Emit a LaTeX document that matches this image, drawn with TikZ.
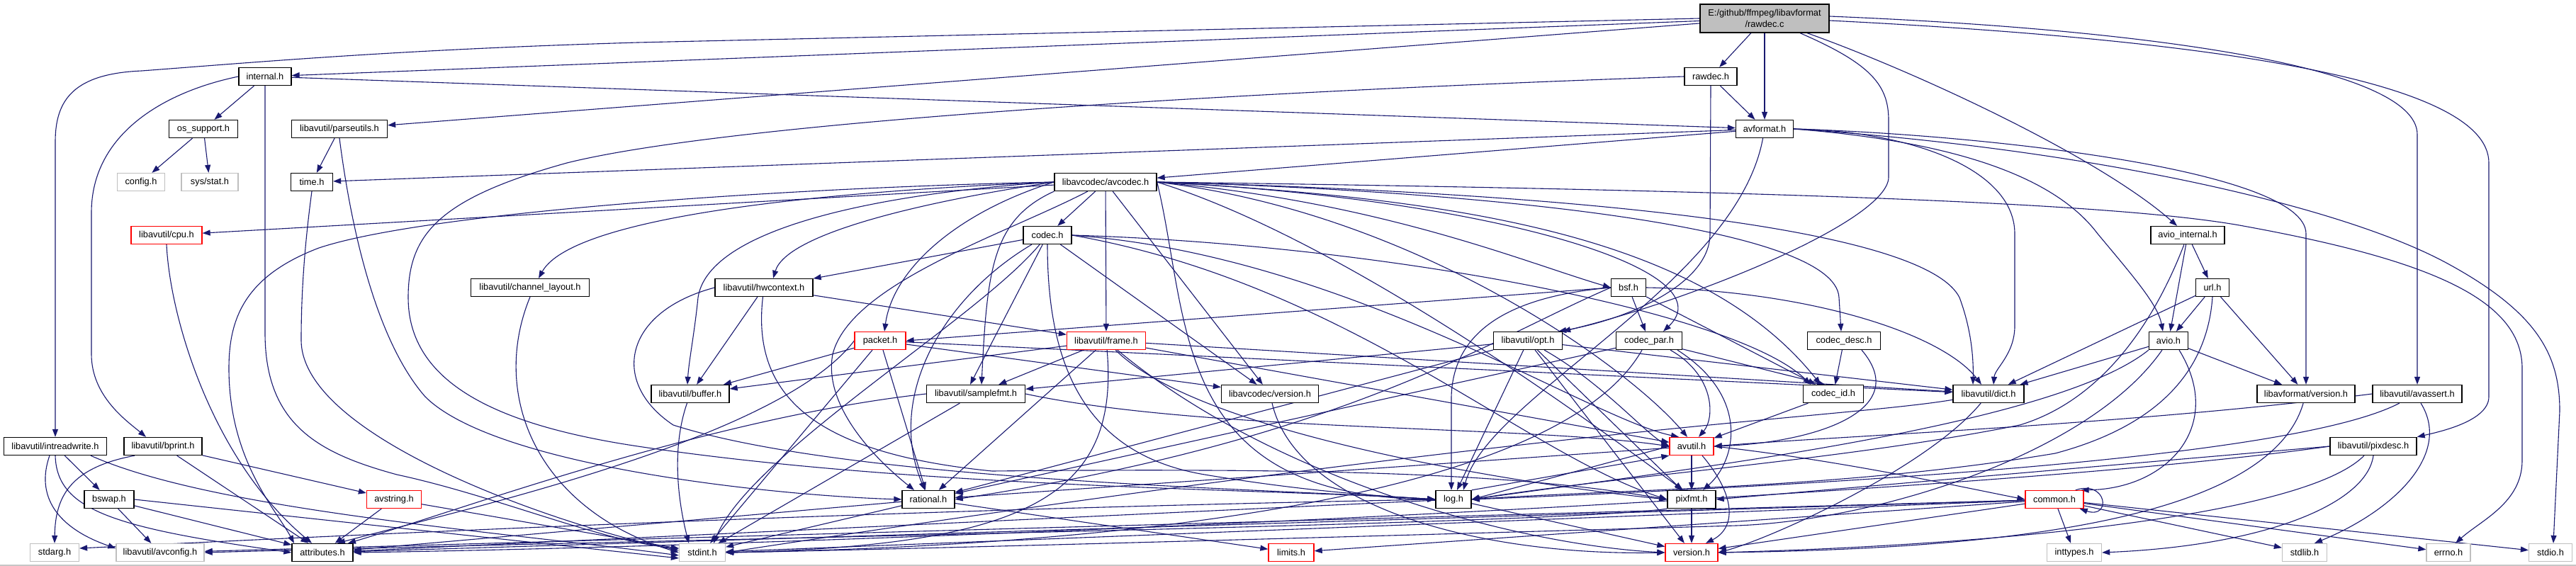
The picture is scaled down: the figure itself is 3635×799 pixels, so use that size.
\documentclass[tikz,border=0pt]{standalone}
\usepackage{fontspec}
\setmainfont{Liberation Sans}
\usetikzlibrary{arrows.meta}
\pgfdeclarelayer{bg}
\pgfsetlayers{bg,main}
\definecolor{edgec}{HTML}{191970}
\definecolor{grayb}{HTML}{BFBFBF}
\begin{document}
\begin{tikzpicture}[x=1pt,y=-1pt,
  nd/.style={draw=black, line width=1.3pt, fill=white, minimum height=25pt, inner sep=0pt, font=\fontsize{12.8}{14}\selectfont},
  gr/.style={nd, draw=grayb},
  rd/.style={nd, draw=red},
  dep/.style={draw=edgec, line width=1.1pt, -{Triangle[length=11pt,width=8pt]}}]
\path[use as bounding box] (0,0) rectangle (3635,799);
% nodes
\node[nd, fill=grayb, minimum width=182pt, minimum height=40pt, align=center, font=\fontsize{12.8}{15.5}\selectfont] (root) at (2490,26) {E:/github/ffmpeg/libavformat\\/rawdec.c};
\node[nd, minimum width=74pt] (internal) at (374,108) {internal.h};
\node[nd, minimum width=74pt] (rawdech) at (2414,108) {rawdec.h};
\node[nd, minimum width=97pt] (ossupport) at (287,182) {os\_support.h};
\node[nd, minimum width=135pt] (parseutils) at (479,182) {libavutil/parseutils.h};
\node[nd, minimum width=81pt] (avformat) at (2490,182) {avformat.h};
\node[gr, minimum width=67pt] (config) at (199,257) {config.h};
\node[gr, minimum width=80pt] (sysstat) at (296,257) {sys/stat.h};
\node[nd, minimum width=59pt] (time) at (440,257) {time.h};
\node[nd, minimum width=144pt] (avcodec) at (1560,257) {libavcodec/avcodec.h};
\node[rd, minimum width=100pt] (cpu) at (235,332) {libavutil/cpu.h};
\node[nd, minimum width=68pt] (codec) at (1478,332) {codec.h};
\node[nd, minimum width=104pt] (aviointernal) at (3087,332) {avio\_internal.h};
\node[nd, minimum width=167pt] (chlayout) at (748,406) {libavutil/channel\_layout.h};
\node[nd, minimum width=138pt] (hwcontext) at (1078,406) {libavutil/hwcontext.h};
\node[nd, minimum width=49pt] (bsf) at (2298,406) {bsf.h};
\node[nd, minimum width=47pt] (url) at (3122,406) {url.h};
\node[rd, minimum width=72pt] (packet) at (1242,481) {packet.h};
\node[rd, minimum width=111pt] (frame) at (1561,481) {libavutil/frame.h};
\node[nd, minimum width=97pt] (opt) at (2156,481) {libavutil/opt.h};
\node[nd, minimum width=93pt] (codecpar) at (2327,481) {codec\_par.h};
\node[nd, minimum width=103pt] (codecdesc) at (2602,481) {codec\_desc.h};
\node[nd, minimum width=55pt] (avio) at (3060,481) {avio.h};
\node[nd, minimum width=110pt] (buffer) at (974,556) {libavutil/buffer.h};
\node[nd, minimum width=139pt] (samplefmt) at (1377,556) {libavutil/samplefmt.h};
\node[nd, minimum width=137pt] (lavcversion) at (1792,556) {libavcodec/version.h};
\node[nd, minimum width=85pt] (codecid) at (2587,556) {codec\_id.h};
\node[nd, minimum width=100pt] (dict) at (2806,556) {libavutil/dict.h};
\node[nd, minimum width=138pt] (lavfversion) at (3254,556) {libavformat/version.h};
\node[nd, minimum width=126pt] (avassert) at (3411,556) {libavutil/avassert.h};
\node[nd, minimum width=145pt] (intreadwrite) at (78,630) {libavutil/intreadwrite.h};
\node[nd, minimum width=110pt] (bprint) at (230,630) {libavutil/bprint.h};
\node[rd, minimum width=62pt] (avutil) at (2387,630) {avutil.h};
\node[nd, minimum width=122pt] (pixdesc) at (3349,630) {libavutil/pixdesc.h};
\node[nd, minimum width=70pt] (bswap) at (154,705) {bswap.h};
\node[rd, minimum width=77pt] (avstring) at (556,705) {avstring.h};
\node[nd, minimum width=74pt] (rational) at (1310,705) {rational.h};
\node[nd, minimum width=50pt] (log) at (2051,705) {log.h};
\node[nd, minimum width=68pt] (pixfmt) at (2387,705) {pixfmt.h};
\node[rd, minimum width=82pt] (common) at (2899,705) {common.h};
\node[gr, minimum width=69pt] (stdarg) at (77,780) {stdarg.h};
\node[gr, minimum width=124pt] (avconfig) at (226,780) {libavutil/avconfig.h};
\node[nd, minimum width=86pt] (attributes) at (455,780) {attributes.h};
\node[gr, minimum width=65pt] (stdint) at (991,780) {stdint.h};
\node[rd, minimum width=64pt] (limits) at (1822,780) {limits.h};
\node[rd, minimum width=74pt] (version) at (2387,780) {version.h};
\node[gr, minimum width=77pt] (inttypes) at (2927,780) {inttypes.h};
\node[gr, minimum width=63pt] (stdlib) at (3252,780) {stdlib.h};
\node[gr, minimum width=62pt] (errno) at (3455,780) {errno.h};
\node[gr, minimum width=61pt] (stdio) at (3599,780) {stdio.h};

\begin{pgfonlayer}{bg}
\fill[white] (0,0) rectangle (3635,799);
\draw[gray!45, line width=1.5pt] (0,798) -- (3635,798);
% root
\draw[dep] (root) -- (internal);
\draw[dep] (root) -- (parseutils);
\draw[dep] (root.west) -- (900,60) .. controls (560,70) and (360,88) .. (200,100) .. controls (105,104) and (78,140) .. (78,200) -- (intreadwrite);
\draw[dep] (root) -- (rawdech);
\draw[dep] (root) -- (avformat);
\draw[dep] ([xshift=60pt]root.south) .. controls (2700,100) and (2960,220) .. (aviointernal);
\draw[dep] ([xshift=50pt]root.south) .. controls (2640,90) and (2665,120) .. (2665,170) -- (2665,250) .. controls (2665,310) and (2400,420) .. (opt.north east);
\draw[dep] ([yshift=3pt]root.east) .. controls (3000,40) and (3411,90) .. (3411,190) -- (avassert);
\draw[dep] ([yshift=-3pt]root.east) .. controls (3100,55) and (3512,110) .. (3512,230) -- (3512,560) .. controls (3512,595) and (3440,610) .. (pixdesc.north east);
% internal
\draw[dep] (internal) -- (avformat);
\draw[dep] (internal) -- (ossupport);
\draw[dep] (internal.west) .. controls (230,130) and (129,190) .. (129,300) -- (129,500) .. controls (129,560) and (180,595) .. ([xshift=-24pt]bprint.north);
\draw[dep] (internal.south) -- (374,470) .. controls (374,600) and (450,640) .. (560,670) .. controls (700,700) and (850,765) .. ([yshift=6pt]stdint.west);
% os_support
\draw[dep] (ossupport) -- (config);
\draw[dep] (ossupport) -- (sysstat);
% parseutils
\draw[dep] (parseutils) -- (time);
\draw[dep] (parseutils.south) .. controls (495,320) and (530,480) .. (600,560) .. controls (700,660) and (1100,700) .. (rational.west);
% time
\draw[dep] (time.south) .. controls (432,330) and (425,400) .. (425,480) .. controls (425,620) and (800,745) .. ([yshift=3pt]stdint.west);
% rawdec.h
\draw[dep] (rawdech) -- (avformat);
\draw[dep] (rawdech.west) .. controls (1600,135) and (1000,180) .. (800,230) .. controls (620,280) and (576,330) .. (576,420) .. controls (576,540) and (700,600) .. (900,630) .. controls (1300,690) and (1800,690) .. (log.west);
\draw[dep] (rawdech.south) -- (2413,330) .. controls (2413,400) and (2300,450) .. ([xshift=-6pt]opt.north east);
% avformat
\draw[dep] (avformat) -- (time);
\draw[dep] (avformat) -- (avcodec);
\draw[dep] (avformat) .. controls (2450,400) and (2100,560) .. ([xshift=14pt]log.north);
\draw[dep] (avformat.east) .. controls (2700,185) and (2843,240) .. (2843,330) -- (2843,460) .. controls (2843,500) and (2815,520) .. ([xshift=7pt]dict.north);
\draw[dep] (avformat.east) .. controls (2760,200) and (2900,250) .. (2960,330) .. controls (3010,390) and (3045,430) .. ([xshift=-8pt]avio.north);
\draw[dep] (avformat.east) .. controls (2800,190) and (3254,240) .. (3254,330) -- (lavfversion);
\draw[dep] (avformat.east) .. controls (2950,210) and (3300,290) .. (3450,370) .. controls (3580,440) and (3612,500) .. (3612,580) -- ([xshift=4pt]stdio.north);
% avcodec
\draw[dep] (avcodec) -- (codec);
\draw[dep] (avcodec) -- (frame);
\draw[dep] (avcodec) -- (lavcversion);
\draw[dep] (avcodec) -- (cpu);
\draw[dep] (avcodec.west) .. controls (1100,265) and (600,300) .. (450,350) .. controls (345,390) and (323,450) .. (323,520) .. controls (323,650) and (390,720) .. ([xshift=-40pt]attributes.north);
\draw[dep] (avcodec.west) .. controls (1050,275) and (800,320) .. ([xshift=12pt]chlayout.north);
\draw[dep] (avcodec.west) .. controls (1250,272) and (1000,320) .. (985,420) .. controls (980,470) and (972,510) .. ([xshift=-4pt]buffer.north);
\draw[dep] (avcodec.west) .. controls (1300,285) and (1110,330) .. ([xshift=13pt]hwcontext.north);
\draw[dep] (avcodec.west) .. controls (1350,300) and (1260,380) .. ([xshift=6pt]packet.north);
\draw[dep] (avcodec) .. controls (1420,330) and (1200,400) .. (1175,500) .. controls (1160,580) and (1250,660) .. ([xshift=-20pt]rational.north);
\draw[dep] (avcodec.south west) .. controls (1400,310) and (1393,380) .. ([xshift=8pt]samplefmt.north);
\draw[dep] (avcodec.east) .. controls (1950,285) and (2150,370) .. (bsf.west);
\draw[dep] (avcodec.east) .. controls (2100,280) and (2440,380) .. ([xshift=20pt]codecpar.north);
\draw[dep] (avcodec.east) .. controls (2100,270) and (2590,320) .. (2595,420) -- ([xshift=-4pt]codecdesc.north);
\draw[dep] (avcodec.east) .. controls (2050,280) and (2400,330) .. ([xshift=-18pt]codecid.north);
\draw[dep] (avcodec.east) .. controls (2300,275) and (2720,330) .. (2765,420) .. controls (2780,460) and (2785,500) .. ([xshift=-22pt]dict.north);
\draw[dep] (avcodec.east) .. controls (2000,300) and (2300,520) .. ([xshift=-6pt]avutil.north);
\draw[dep] (avcodec.east) .. controls (1900,340) and (2250,600) .. ([xshift=-12pt]pixfmt.north);
\draw[dep] (avcodec.east) .. controls (1680,450) and (1650,700) .. (log.west);
\draw[dep] (avcodec.east) .. controls (2600,270) and (3000,290) .. (3160,318) .. controls (3420,365) and (3559,420) .. (3559,520) -- (3559,650) .. controls (3559,710) and (3500,735) .. ([xshift=10pt]errno.north);
% codec
\draw[dep] (codec) -- (hwcontext);
\draw[dep] (codec) .. controls (1330,420) and (1250,560) .. ([xshift=-5pt]rational.north);
\draw[dep] (codec) -- ([xshift=-8pt]samplefmt.north);
\draw[dep] (codec) -- (lavcversion);
\draw[dep] (codec) .. controls (1380,450) and (1060,640) .. ([xshift=16pt]stdint.north);
\draw[dep] (codec.east) .. controls (1900,360) and (2240,590) .. ([xshift=-18pt]avutil.north);
\draw[dep] (codec.south) .. controls (1478,500) and (1520,640) .. (1700,670) .. controls (1850,695) and (1950,700) .. (log.west);
\draw[dep] (codec.east) .. controls (1900,400) and (2150,640) .. (pixfmt.west);
\draw[dep] (codec.east) .. controls (1950,345) and (2450,440) .. ([xshift=-32pt]codecid.north);
% bsf
\draw[dep] (bsf) -- (codecpar);
\draw[dep] (bsf) -- ([xshift=-25pt]codecid.north);
\draw[dep] (bsf.east) .. controls (2550,410) and (2740,470) .. ([xshift=-10pt]dict.north);
\draw[dep] (bsf.west) .. controls (2110,420) and (2050,480) .. (2048,560) -- ([xshift=-3pt]log.north);
\draw[dep] (bsf.west) .. controls (2100,480) and (1900,620) .. (rational.east);
\draw[dep] (bsf.west) -- (packet.east);
% codec_par
\draw[dep] (codecpar) -- ([xshift=-12pt]codecid.north);
\draw[dep] ([xshift=-10pt]codecpar.south) .. controls (2200,700) and (1600,770) .. (stdint.east);
\draw[dep] ([xshift=30pt]codecpar.south) .. controls (2420,530) and (2420,590) .. ([xshift=10pt]avutil.north);
\draw[dep] (codecpar) -- (rational);
\draw[dep] ([xshift=40pt]codecpar.south) .. controls (2470,560) and (2450,650) .. ([xshift=16pt]pixfmt.north);
% codec_desc, codec_id
\draw[dep] (codecdesc) -- (codecid);
\draw[dep] ([xshift=25pt]codecdesc.south) .. controls (2700,580) and (2560,625) .. (avutil.east);
\draw[dep] (codecid) -- (avutil);
% packet
\draw[dep] (packet) -- (stdint);
\draw[dep] (packet.west) .. controls (1100,620) and (650,720) .. ([xshift=21pt]attributes.north);
\draw[dep] (packet) -- (buffer);
\draw[dep] (packet) -- (dict);
\draw[dep] (packet) -- (rational);
\draw[dep] (packet) -- (lavcversion);
% libavcodec/version.h
\draw[dep] (lavcversion) .. controls (1830,720) and (2100,785) .. (version.west);
% frame
\draw[dep] (frame) -- (buffer);
\draw[dep] (frame) -- (samplefmt);
\draw[dep] (frame) -- (rational);
\draw[dep] (frame) -- (dict);
\draw[dep] (frame) -- (avutil);
\draw[dep] (frame) .. controls (1700,620) and (2200,690) .. (pixfmt.west);
\draw[dep] (frame) .. controls (1580,700) and (1450,770) .. (stdint.east);
\draw[dep] (frame) .. controls (1800,680) and (2150,770) .. (version.west);
% hwcontext
\draw[dep] (hwcontext) -- (buffer);
\draw[dep] (hwcontext) -- (frame);
\draw[dep] (hwcontext.west) .. controls (880,440) and (860,540) .. (950,600) .. controls (1200,680) and (1800,690) .. (log.west);
\draw[dep] (hwcontext) .. controls (1060,560) and (1150,640) .. (1400,665) .. controls (1900,660) and (2150,670) .. (pixfmt.west);
% buffer
\draw[dep] (buffer) .. controls (945,640) and (960,720) .. ([xshift=-19pt]stdint.north);
% samplefmt
\draw[dep] (samplefmt) -- (stdint);
\draw[dep] (samplefmt.east) .. controls (1700,610) and (2150,600) .. (avutil.west);
\draw[dep] (samplefmt.west) .. controls (1000,590) and (650,720) .. ([xshift=36pt]attributes.north);
% opt
\draw[dep] (opt) -- (rational);
\draw[dep] (opt) .. controls (2260,540) and (2320,610) .. (avutil.west);
\draw[dep] (opt) -- (dict);
\draw[dep] (opt) -- ([xshift=5pt]log.north);
\draw[dep] (opt) -- (pixfmt);
\draw[dep] (opt) -- (samplefmt);
\draw[dep] (opt) -- (version);
% dict
\draw[dep] (dict) .. controls (2600,590) and (2200,600) .. (stdint.east);
\draw[dep] (dict) .. controls (2720,660) and (2500,760) .. (version.east);
% avutil
\draw[dep] (avutil.east) .. controls (2600,650) and (2780,690) .. (common.west);
\draw[dep] (avutil) -- (rational);
\draw[dep] ([xshift=15pt]avutil.south) .. controls (2450,700) and (2450,745) .. ([xshift=20pt]version.north);
\draw[dep] (avutil.west) -- (log.east);
\draw[dep] (avutil) -- (pixfmt);
% log
\draw[dep] (log.west) .. controls (1200,720) and (400,760) .. ([yshift=6pt]stdarg.east);
\draw[dep] (log.north east) -- (avutil.south west);
\draw[dep] (log) -- (attributes);
\draw[dep] (log) -- (version);
% pixfmt
\draw[dep] (pixfmt.south west) .. controls (2200,740) and (1000,760) .. (avconfig.east);
\draw[dep] (pixfmt) -- (version);
% common
\draw[dep] (common) -- (inttypes);
\draw[dep] (common) -- (stdlib);
\draw[dep] (common) -- (errno);
\draw[dep] (common) -- (stdio);
\draw[dep] (common) -- (limits);
\draw[dep] (common) -- (stdint);
\draw[dep] (common) -- (attributes);
\draw[dep] (common) -- (avconfig);
\draw[dep] (common) -- (version);
\draw[dep] ([xshift=-12pt]common.north east) .. controls +(45,-15) and +(45,15) .. ([xshift=-6pt]common.south east);
% rational
\draw[dep] (rational) -- (stdint);
\draw[dep] (rational) -- (limits);
\draw[dep] (rational) -- (attributes);
% avio
\draw[dep] (avio) .. controls (2950,640) and (2650,735) .. (2450,742) .. controls (2000,755) and (1300,775) .. (stdint.east);
\draw[dep] (avio.south west) .. controls (2900,600) and (2400,660) .. (log.east);
\draw[dep] ([xshift=15pt]avio.south) .. controls (3140,600) and (3060,690) .. ([xshift=-4pt]common.north east);
\draw[dep] (avio) -- (dict);
\draw[dep] (avio) -- (lavfversion);
% libavformat/version.h
\draw[dep] (lavfversion) .. controls (3200,740) and (2800,775) .. (version.east);
% avio_internal
\draw[dep] (aviointernal) -- (avio);
\draw[dep] (aviointernal) -- (url);
\draw[dep] (aviointernal) .. controls (3030,480) and (2950,570) .. (2850,600) .. controls (2600,650) and (2300,670) .. (log.east);
% url
\draw[dep] (url) -- (avio);
\draw[dep] (url) -- (lavfversion);
\draw[dep] (url) -- (dict);
\draw[dep] (url.south) .. controls (3115,520) and (3050,600) .. (2900,640) .. controls (2600,690) and (2300,690) .. (log.east);
% avassert
\draw[dep] ([xshift=5pt]avassert.south) .. controls (3460,640) and (3380,720) .. ([xshift=14pt]stdlib.north);
\draw[dep] (avassert.west) .. controls (3000,600) and (2600,615) .. (avutil.east);
\draw[dep] (avassert) .. controls (3250,640) and (2700,680) .. (log.east);
% pixdesc
\draw[dep] (pixdesc.south) .. controls (3340,710) and (3200,770) .. (inttypes.east);
\draw[dep] (pixdesc.west) .. controls (2800,700) and (1200,770) .. (attributes.east);
\draw[dep] (pixdesc.west) -- (pixfmt.east);
\draw[dep] (pixdesc) .. controls (3250,730) and (2800,770) .. (version.east);
% intreadwrite
\draw[dep] (intreadwrite) -- (bswap);
\draw[dep] ([xshift=50pt]intreadwrite.south) .. controls (300,720) and (700,750) .. ([yshift=-4pt]stdint.west);
\draw[dep] ([xshift=-8pt]intreadwrite.south) .. controls (50,700) and (80,745) .. ([yshift=6pt]avconfig.west);
\draw[dep] (intreadwrite.south) .. controls (80,720) and (160,745) .. (attributes.west);
% bswap
\draw[dep] (bswap) -- (avconfig);
\draw[dep] (bswap) -- (attributes);
\draw[dep] (bswap.east) -- ([yshift=-8pt]stdint.west);
% bprint
\draw[dep] ([xshift=-40pt]bprint.south) .. controls (100,660) and (78,700) .. (stdarg.north);
\draw[dep] (bprint) -- (attributes);
\draw[dep] (bprint) -- (avstring);
% avstring
\draw[dep] (avstring) -- (attributes);
\draw[dep] (avstring) -- (stdint);
% cpu
\draw[dep] (cpu.south) .. controls (240,450) and (300,650) .. ([xshift=-15pt]attributes.north);
% channel_layout
\draw[dep] (chlayout.south) .. controls (690,560) and (760,720) .. (stdint.west);
\end{pgfonlayer}
\end{tikzpicture}
\end{document}
